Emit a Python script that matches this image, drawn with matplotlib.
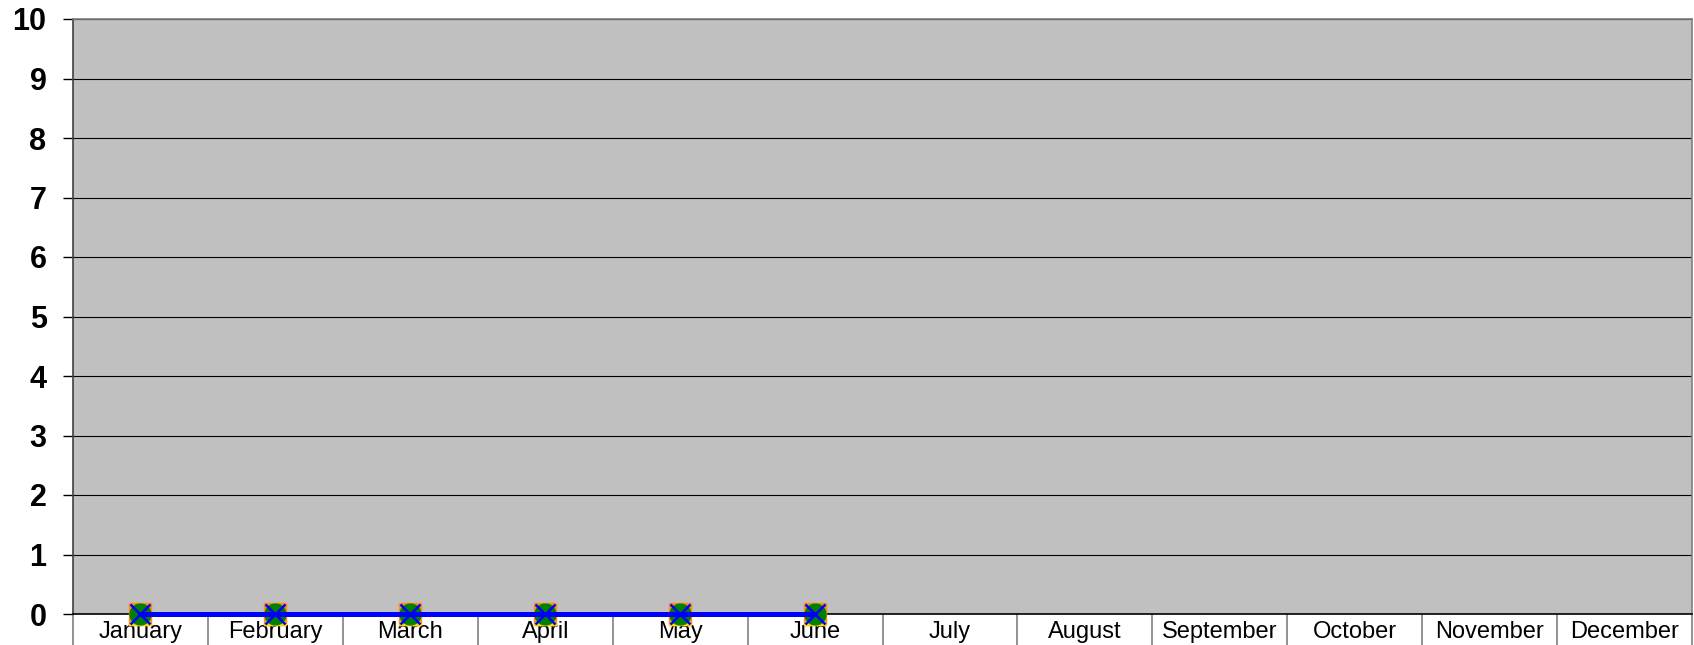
import numpy as np
import matplotlib.pyplot as plt
from matplotlib import rcParams

rcParams["font.family"] = ["Liberation Sans", "DejaVu Sans"]

# Chart data
months = ["January", "February", "March", "April", "May", "June",
          "July", "August", "September", "October", "November", "December"]
series_a = [0, 0, 0, 0, 0, 0, None, None, None, None, None, None]
series_b = [0, 0, 0, 0, 0, 0, None, None, None, None, None, None]
series_c = [0, 0, 0, 0, 0, 0, None, None, None, None, None, None]
series_d = [0, 0, 0, 0, 0, 0, None, None, None, None, None, None]
y_ticks = list(range(0, 11))


def to_arr(vals):
    return np.array([np.nan if v is None else v for v in vals], dtype=float)


fig = plt.figure(figsize=(16.94, 6.45), dpi=100)
ax = fig.add_axes([73 / 1694, 31 / 645, (1692 - 73) / 1694, (614 - 19) / 645])
ax.set_facecolor("#C0C0C0")

x = np.arange(len(months))

# stacked marker series, drawn in order so they overlap like the original
ax.plot(x, to_arr(series_a), linestyle="none", marker="s", markersize=16,
        markerfacecolor="#FF8C1A", markeredgecolor="#FF8C1A", clip_on=False, zorder=3)
ax.plot(x, to_arr(series_b), linestyle="none", marker="^", markersize=16,
        markerfacecolor="#FFD700", markeredgecolor="#FFD700", clip_on=False, zorder=4)
ax.plot(x, to_arr(series_c), linestyle="none", marker="o", markersize=15,
        markerfacecolor="#008000", markeredgecolor="#008000", clip_on=False, zorder=5)
ax.plot(x, to_arr(series_d), color="#0000FF", linewidth=3.6, marker="x",
        markersize=15, markeredgewidth=1.8, markeredgecolor="#0000FF",
        clip_on=False, zorder=6)

ax.set_xlim(-0.5, len(months) - 0.5)
ax.set_ylim(0, 10)

ax.set_yticks(y_ticks)
ax.set_yticklabels([str(v) for v in y_ticks], fontsize=22, fontweight="bold")
ax.tick_params(axis="y", direction="out", length=7, width=1, color="black", pad=12)
ax.yaxis.grid(True, color="black", linewidth=0.8)
ax.set_axisbelow(True)

ax.set_xticks(x)
ax.set_xticklabels(months, fontsize=17)
ax.tick_params(axis="x", which="major", length=0, pad=5)
ax.set_xticks(np.arange(-0.5, len(months)), minor=True)
ax.tick_params(axis="x", which="minor", direction="out", length=23,
               width=1.2, color="#808080")

ax.spines["top"].set_color("#808080")
ax.spines["right"].set_color("#808080")
ax.spines["left"].set_color("#404040")
ax.spines["bottom"].set_color("black")
for s in ax.spines.values():
    s.set_linewidth(1.2)

fig.savefig("out.png", dpi=100)
